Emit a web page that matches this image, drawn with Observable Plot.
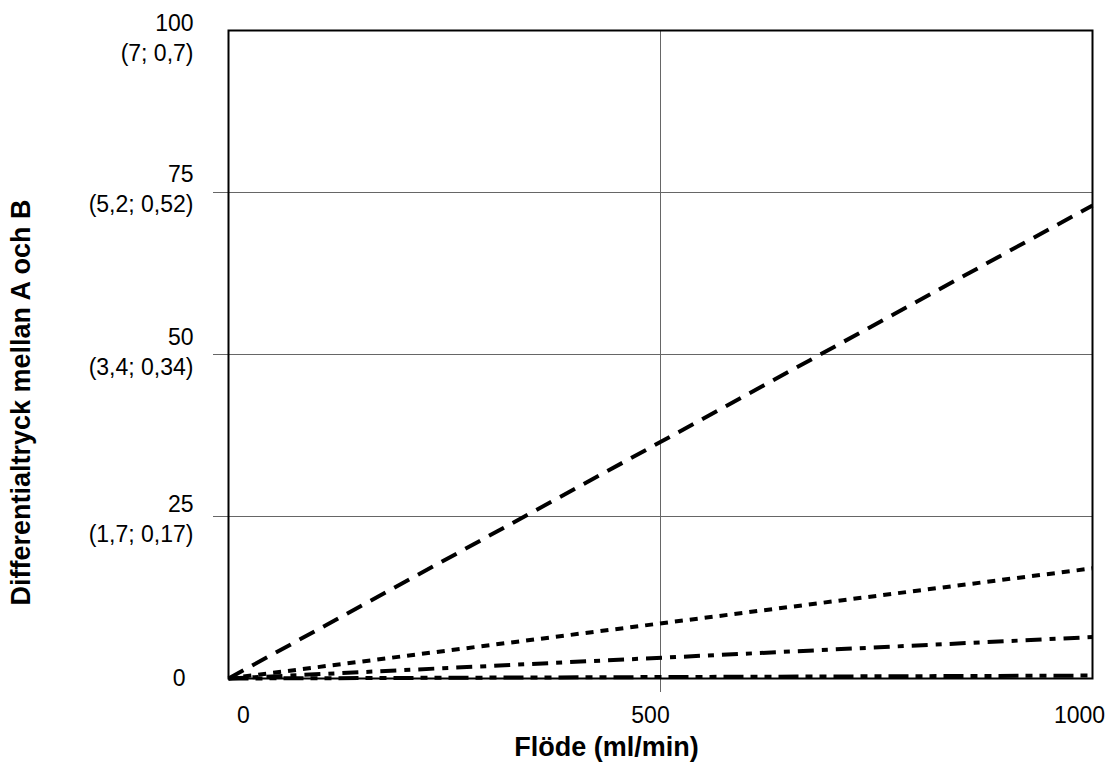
<!DOCTYPE html>
<html>
<head>
<meta charset="utf-8">
<script src="https://cdn.jsdelivr.net/npm/d3@7"></script>
<script src="https://cdn.jsdelivr.net/npm/@observablehq/plot@0.6"></script>
<style>
  html, body { margin: 0; padding: 0; background: #fff; }
  #chart svg { display: block; }
</style>
</head>
<body>
<div id="chart"></div>
<script>
// Data
const flowValues = [0, 1000];                       // Flöde (ml/min)
const seriesNames = ["S1", "S2", "S3", "S4"];
const seriesEndValues = [73, 17, 6.4, 0.45];         // differential pressure at 1000 ml/min
const xTickValues = [0, 500, 1000];
const xTickLabels = ["0", "500", "1000"];
const yTickValues = [25, 50, 75, 100];
const yTickLabels = ["25\n(1,7; 0,17)", "50\n(3,4; 0,34)", "75\n(5,2; 0,52)", "100\n(7; 0,7)"];
const yZeroLabel = "0";
const xTitle = "Flöde (ml/min)";
const yTitle = "Differentialtryck mellan A och B";

// styling
const font = "'Liberation Sans', Arial, Helvetica, sans-serif";
const seriesDash = ["17,10", "8,7", "16,8,6,8", "20,7,7,7,7,7"];
const xLabelDx = [15, -10, -13];
const yLabelDy = [1, -4, -5, 6];

const lineMarks = seriesNames.map((name, i) => {
  const pts = flowValues.map(f => ({flow: f, value: seriesEndValues[i] * f / 1000}));
  return Plot.line(pts, {x: "flow", y: "value", stroke: "black", strokeWidth: 4,
    strokeDasharray: seriesDash[i], strokeLinecap: "butt"});
});

const xLabelMarks = xTickValues.map((v, i) =>
  Plot.text([v], {x: d => d, y: 0, text: () => xTickLabels[i], dy: 37, dx: xLabelDx[i],
    fontSize: 23, fill: "black", lineAnchor: "middle"}));

const yLabelMarks = yTickValues.map((v, i) =>
  Plot.text([v], {x: 0, y: d => d, text: () => yTickLabels[i], textAnchor: "end", dx: -35,
    dy: yLabelDy[i], fontSize: 23, lineHeight: 1.32, lineAnchor: "middle", fill: "black"}));

const chart = Plot.plot({
  width: 1107,
  height: 763,
  marginLeft: 228,
  marginRight: 15,
  marginTop: 30,
  marginBottom: 85,
  style: {fontFamily: font, background: "white"},
  x: {domain: [0, 1000], label: null},
  y: {domain: [0, 100], label: null},
  marks: [
    Plot.gridX([500], {stroke: "#666", strokeOpacity: 1, strokeWidth: 1}),
    Plot.gridY([25, 50, 75], {stroke: "#666", strokeOpacity: 1, strokeWidth: 1}),
    Plot.axisX([500], {tickSize: 14, text: null, label: null, stroke: "#666", strokeWidth: 1}),
    Plot.axisY([25, 50, 75], {tickSize: 15, text: null, label: null, stroke: "#666", strokeWidth: 1}),
    ...lineMarks,
    Plot.frame({stroke: "black", strokeWidth: 2}),
    ...yLabelMarks,
    Plot.text([0], {x: 0, y: d => d, text: () => yZeroLabel, textAnchor: "end", dx: -43,
      fontSize: 23, lineAnchor: "middle", fill: "black"}),
    ...xLabelMarks,
    Plot.text([xTitle], {x: 500, y: 0, text: d => d, dy: 69, dx: -54, fontSize: 27,
      fontWeight: "bold", lineAnchor: "middle", fill: "black"}),
    Plot.text([yTitle], {x: 0, y: 50, text: d => d, dx: -207, dy: 48, rotate: -90,
      fontSize: 27, fontWeight: "bold", lineAnchor: "middle", fill: "black"})
  ]
});
document.getElementById("chart").appendChild(chart);
</script>
</body>
</html>
